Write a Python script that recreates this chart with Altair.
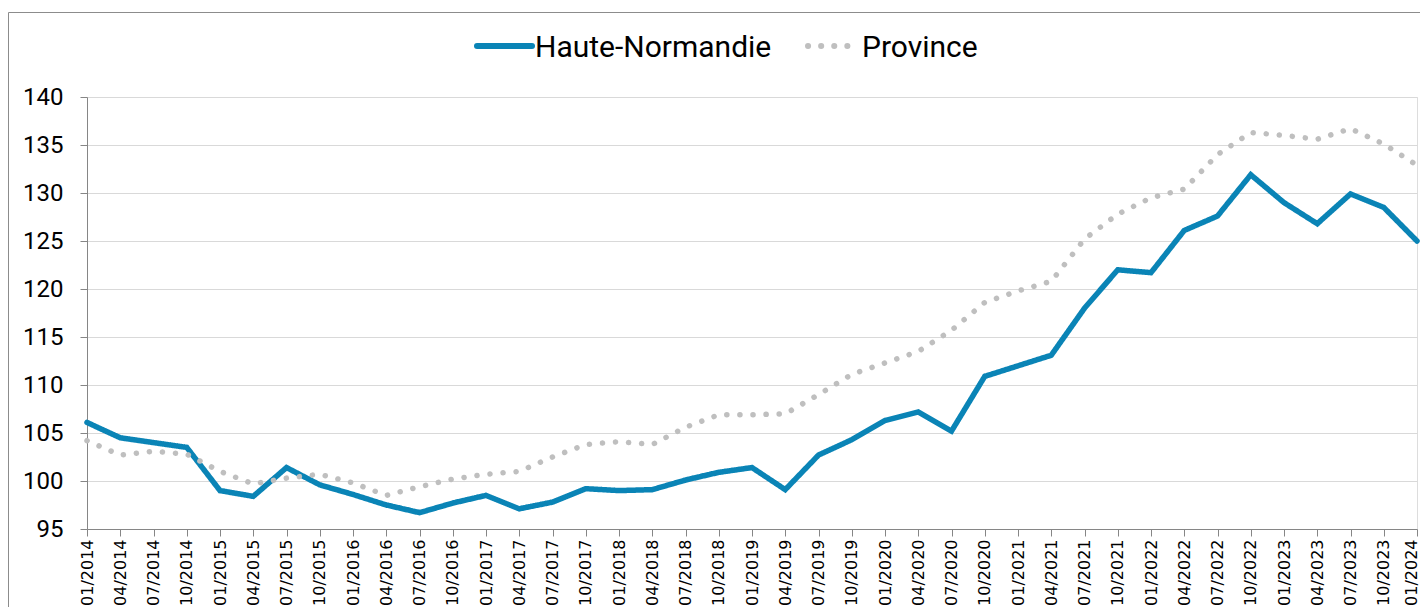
import altair as alt
import pandas as pd

periods = [
    "01/2014", "04/2014", "07/2014", "10/2014",
    "01/2015", "04/2015", "07/2015", "10/2015",
    "01/2016", "04/2016", "07/2016", "10/2016",
    "01/2017", "04/2017", "07/2017", "10/2017",
    "01/2018", "04/2018", "07/2018", "10/2018",
    "01/2019", "04/2019", "07/2019", "10/2019",
    "01/2020", "04/2020", "07/2020", "10/2020",
    "01/2021", "04/2021", "07/2021", "10/2021",
    "01/2022", "04/2022", "07/2022", "10/2022",
    "01/2023", "04/2023", "07/2023", "10/2023",
    "01/2024",
]

haute_normandie = [
    106.1, 104.5, 104.0, 103.5,
    99.0, 98.4, 101.4, 99.6,
    98.6, 97.5, 96.7, 97.7,
    98.5, 97.1, 97.8, 99.2,
    99.0, 99.1, 100.1, 100.9,
    101.4, 99.1, 102.7, 104.3,
    106.3, 107.2, 105.2, 110.9,
    112.0, 113.1, 118.0, 122.0,
    121.7, 126.1, 127.6, 131.9,
    129.0, 126.8, 129.9, 128.5,
    125.0,
]

province = [
    104.2, 102.7, 103.1, 102.8,
    101.0, 99.7, 100.3, 100.7,
    99.8, 98.5, 99.4, 100.2,
    100.7, 101.0, 102.5, 103.8,
    104.1, 103.8, 105.6, 106.9,
    106.9, 107.0, 109.0, 111.1,
    112.3, 113.5, 115.7, 118.6,
    119.8, 120.8, 125.2, 127.8,
    129.5, 130.4, 134.0, 136.3,
    136.0, 135.6, 136.7, 135.1,
    132.9,
]

series_names = ["Haute-Normandie", "Province"]
series_colors = ["#0a84b6", "#bfbfbf"]
series_dashes = [[1, 0], [0.1, 13]]

rows = []
for i, p in enumerate(periods):
    rows.append({"periode": p, "serie": series_names[0], "valeur": haute_normandie[i], "ordre": i})
for i, p in enumerate(periods):
    rows.append({"periode": p, "serie": series_names[1], "valeur": province[i], "ordre": i})
df = pd.DataFrame(rows)

W, H = 1330, 432
XFONT = "DejaVu Sans"
YFONT = "Roboto"

one = pd.DataFrame({"a": [0]})

border = alt.Chart(one).mark_rect(
    fill=None, stroke="#8c8c8c", strokeWidth=1
).encode(
    x=alt.value(-78.5), x2=alt.value(W + 60),
    y=alt.value(-84.5), y2=alt.value(H + 200),
)

last_label_shift = {
    "condition": {"test": "datum.value === '" + periods[-1] + "'", "value": -6},
    "value": 0,
}

lines = alt.Chart(df).mark_line(strokeWidth=5.5, strokeCap="round", strokeJoin="miter").encode(
    x=alt.X(
        "periode:N",
        sort=periods,
        scale=alt.Scale(type="point", padding=0),
        axis=alt.Axis(
            title=None, labelAngle=-90, labelFontSize=16, labelFont=XFONT,
            labelColor="#000000", labelPadding=3, tickSize=7, tickColor="#868686",
            domainColor="#868686", grid=False, labelOverlap=False,
            labelBaseline="middle", labelAlign="right",
            labelOffset=last_label_shift,
        ),
    ),
    y=alt.Y(
        "valeur:Q",
        scale=alt.Scale(domain=[95, 140], nice=False, zero=False),
        axis=alt.Axis(
            title=None, values=list(range(95, 141, 5)), labelFontSize=24,
            labelFont=YFONT, labelColor="#000000", labelPadding=17, tickSize=7,
            tickColor="#868686", domainColor="#868686", gridColor="#d9d9d9",
        ),
    ),
    color=alt.Color(
        "serie:N",
        scale=alt.Scale(domain=series_names, range=series_colors),
        legend=None,
    ),
    strokeDash=alt.StrokeDash(
        "serie:N",
        scale=alt.Scale(domain=series_names, range=series_dashes),
        legend=None,
    ),
    order="ordre:Q",
)

# Legend (drawn as decoration above the plot)
leg_sym_hn = alt.Chart(one).mark_rule(
    color=series_colors[0], strokeWidth=6, strokeCap="round"
).encode(x=alt.value(390), x2=alt.value(445), y=alt.value(-51))
leg_txt_hn = alt.Chart(one).mark_text(
    text=series_names[0], font=YFONT, fontSize=30, color="#000000",
    align="left", baseline="alphabetic",
).encode(x=alt.value(448), y=alt.value(-40))

leg_sym_pr = alt.Chart(one).mark_rule(
    color=series_colors[1], strokeWidth=6, strokeCap="round",
    strokeDash=series_dashes[1],
).encode(x=alt.value(721), x2=alt.value(763), y=alt.value(-51))
leg_txt_pr = alt.Chart(one).mark_text(
    text=series_names[1], font=YFONT, fontSize=30, color="#000000",
    align="left", baseline="alphabetic",
).encode(x=alt.value(775), y=alt.value(-40))

chart = alt.layer(
    border, lines, leg_sym_hn, leg_txt_hn, leg_sym_pr, leg_txt_pr
).properties(
    width=W, height=H,
    autosize=alt.AutoSizeParams(type="none"),
    padding={"left": 79, "top": 89, "right": 3, "bottom": 78},
).configure_view(stroke=None).configure(background="#ffffff")

chart.save("out.html", embed_options={"renderer": "svg", "actions": False})
